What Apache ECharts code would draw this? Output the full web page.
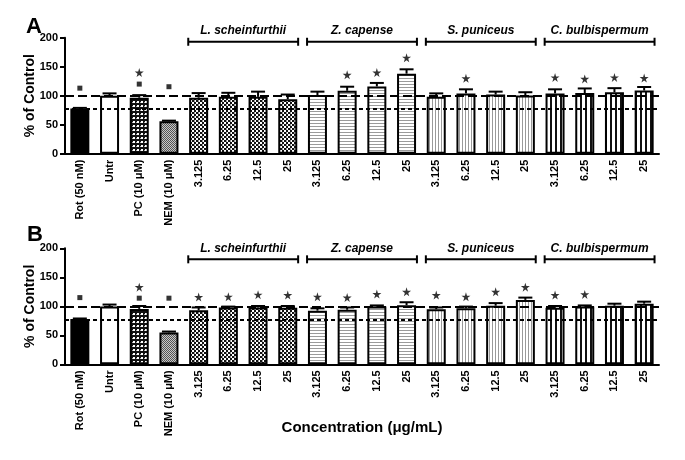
<!DOCTYPE html>
<html><head><meta charset="utf-8">
<script src="https://cdn.jsdelivr.net/npm/echarts@6/dist/echarts.min.js"></script>
<style>html,body{margin:0;padding:0;background:#fff}#c{width:685px;height:460px}</style>
</head><body><div id="c"></div>
<script>
// ---------- data ----------
const categories = ['Rot (50 nM)', 'Untr', 'PC (10 μM)', 'NEM (10 μM)',
  '3.125', '6.25', '12.5', '25',
  '3.125', '6.25', '12.5', '25',
  '3.125', '6.25', '12.5', '25',
  '3.125', '6.25', '12.5', '25'];
const groupNames = ['L. scheinfurthii', 'Z. capense', 'S. puniceus', 'C. bulbispermum'];
const groupStart = [4, 8, 12, 16];
const groupEnd = [7, 11, 15, 19];

const meanA = [78, 100, 96.5, 56, 96.5, 98, 98, 94, 101, 108.5, 116, 138, 98, 104, 102, 100.5, 104, 104.5, 106, 109];
const semA = [1, 4, 4.5, 1, 8, 7, 9, 8, 6, 7, 6, 7.5, 6, 7, 5, 5.5, 7, 8, 7, 6];
const starA = [null, null, 140, null, null, null, null, null, null, 136, 140, 165.5, null, 130, null, null, 131.5, 129, 131.5, 130.5];
const squareA = [113, null, 120, 115.5, null, null, null, null, null, null, null, null, null, null, null, null, null, null, null, null];

const meanB = [78, 99.5, 95.5, 55, 93, 98, 98, 97.5, 92.5, 94, 99.5, 102, 95, 96.5, 101, 111, 97.5, 99.5, 101, 104.5];
const semB = [1, 3.5, 5, 1.5, 5, 1.5, 2.5, 3, 4, 4, 2, 5, 3, 3, 4.5, 4, 3, 2, 3.5, 3.5];
const starB = [null, null, 133, null, 116, 116.5, 120, 119.5, 116.5, 115, 121, 125, 119.5, 116.5, 125, 133, 119.5, 120.5, null, null];
const squareB = [115, null, 114, 114, null, null, null, null, null, null, null, null, null, null, null, null, null, null, null, null];

const bracketLevel = [193, 181];
const refLines = [100, 77];
const yMin = 0, yMax = 200, yStep = 50;

// ---------- patterns ----------
function tile(w, h, draw) {
  const c = document.createElement('canvas');
  c.width = w; c.height = h;
  const g = c.getContext('2d');
  draw(g);
  return { image: c, repeat: 'repeat' };
}
const patPC = tile(4, 4, g => { g.fillStyle = '#111'; g.fillRect(0, 0, 4, 4); g.fillStyle = '#fff'; g.fillRect(1, 1, 2, 2); g.fillStyle = '#aaa'; g.fillRect(0, 2, 1, 1); });
const patNEM = tile(2, 2, g => { g.fillStyle = '#c8c8c8'; g.fillRect(0, 0, 2, 2); g.fillStyle = '#555'; g.fillRect(0, 0, 1, 1); g.fillRect(1, 1, 1, 1); });
const patLS = tile(4, 4, g => { g.fillStyle = '#fff'; g.fillRect(0, 0, 4, 4); g.fillStyle = '#111'; g.fillRect(0, 0, 2, 2); g.fillRect(2, 2, 2, 2); g.fillStyle = '#999'; g.fillRect(2, 0, 1, 2); });
const patZC = tile(1, 3, g => { g.fillStyle = '#fff'; g.fillRect(0, 0, 1, 3); g.fillStyle = '#9a9a9a'; g.fillRect(0, 0, 1, 1); });
const patSP = tile(3, 1, g => { g.fillStyle = '#fff'; g.fillRect(0, 0, 3, 1); g.fillStyle = '#999'; g.fillRect(0, 0, 1, 1); });
const patCB = tile(5, 1, g => { g.fillStyle = '#fff'; g.fillRect(0, 0, 5, 1); g.fillStyle = '#111'; g.fillRect(0, 0, 2, 1); });
const fills = ['#000', '#fff', patPC, patNEM,
  patLS, patLS, patLS, patLS, patZC, patZC, patZC, patZC,
  patSP, patSP, patSP, patSP, patCB, patCB, patCB, patCB];

const FONT = 'Liberation Sans, Arial, sans-serif';
const STAR = 'path://M50,0 L61,35 L98,35 L68,57 L79,91 L50,70 L21,91 L32,57 L2,35 L39,35 Z';

function renderErr(params, api) {
  const i = api.value(0);
  const lo = api.coord([i, api.value(1)]);
  const hi = api.coord([i, api.value(2)]);
  const hw = 7;
  return {
    type: 'group', children: [
      { type: 'line', shape: { x1: lo[0], y1: lo[1], x2: hi[0], y2: hi[1] }, style: { stroke: '#000', lineWidth: 2 } },
      { type: 'line', shape: { x1: hi[0] - hw, y1: hi[1], x2: hi[0] + hw, y2: hi[1] }, style: { stroke: '#000', lineWidth: 2 } }
    ]
  };
}
function renderBracket(params, api) {
  const s = api.coord([api.value(0), api.value(2)]);
  const e = api.coord([api.value(1), api.value(2)]);
  const half = api.size([1, 0])[0] * 0.35;
  const x1 = s[0] - half, x2 = e[0] + half, y = s[1];
  return {
    type: 'group', children: [
      { type: 'line', shape: { x1: x1, y1: y, x2: x2, y2: y }, style: { stroke: '#000', lineWidth: 2 } },
      { type: 'line', shape: { x1: x1, y1: y - 4, x2: x1, y2: y + 4 }, style: { stroke: '#000', lineWidth: 2 } },
      { type: 'line', shape: { x1: x2, y1: y - 4, x2: x2, y2: y + 4 }, style: { stroke: '#000', lineWidth: 2 } },
      { type: 'text', x: (x1 + x2) / 2, y: y - 5, style: { text: groupNames[api.value(3)], align: 'center', verticalAlign: 'bottom', fontSize: 12, fontWeight: 'bold', fontStyle: 'italic', fontFamily: FONT, fill: '#000' } }
    ]
  };
}

const grids = [
  { left: 65, top: 37.7, width: 594, height: 116 },
  { left: 65, top: 248.3, width: 594, height: 116 }
];
const xAxes = [0, 1].map(k => ({
  type: 'category', gridIndex: k, data: categories,
  axisLine: { lineStyle: { color: '#000', width: 2 } },
  axisTick: { show: false },
  axisLabel: { rotate: 90, interval: 0, color: '#000', fontWeight: 'bold', fontSize: 11, fontFamily: FONT, margin: 6 },
  name: k === 1 ? 'Concentration (μg/mL)' : '',
  nameLocation: 'middle', nameGap: 56, nameMoveOverlap: false,
  nameTextStyle: { color: '#000', fontWeight: 'bold', fontSize: 15, fontFamily: FONT }
}));
const yAxes = [0, 1].map(k => ({
  type: 'value', gridIndex: k, min: yMin, max: yMax, interval: yStep,
  axisLine: { show: true, lineStyle: { color: '#000', width: 2 } },
  axisTick: { show: true, length: 5, lineStyle: { color: '#000', width: 2 } },
  axisLabel: { color: '#000', fontWeight: 'bold', fontSize: 11, fontFamily: FONT, margin: 7 },
  splitLine: { show: false },
  name: '% of Control', nameLocation: 'middle', nameGap: 28, nameMoveOverlap: false,
  nameTextStyle: { color: '#000', fontWeight: 'bold', fontSize: 14, fontFamily: FONT }
}));

function panelSeries(k, mean, sem, stars, squares) {
  return [
    {
      type: 'bar', xAxisIndex: k, yAxisIndex: k, barWidth: 19,
      data: mean.map((v, i) => ({ value: v, itemStyle: { color: fills[i] } })),
      itemStyle: { borderColor: '#000', borderWidth: 2 },
      z: 2,
      markLine: {
        silent: true, symbol: 'none', label: { show: false },
        data: [
          { yAxis: refLines[0], lineStyle: { type: [9, 4], color: '#000', width: 2 } },
          { yAxis: refLines[1], lineStyle: { type: [4, 3], color: '#000', width: 2 } }
        ]
      }
    },
    {
      type: 'custom', xAxisIndex: k, yAxisIndex: k, z: 3,
      data: mean.map((v, i) => [i, v, v + sem[i]]),
      encode: { x: 0, y: [1, 2] },
      renderItem: renderErr
    },
    {
      type: 'scatter', xAxisIndex: k, yAxisIndex: k, symbol: STAR, symbolSize: 9,
      itemStyle: { color: '#000' },
      data: stars.map((v, i) => [i, v]).filter(d => d[1] != null)
    },
    {
      type: 'scatter', xAxisIndex: k, yAxisIndex: k, symbol: 'rect', symbolSize: 5,
      itemStyle: { color: '#000' },
      data: squares.map((v, i) => [i, v]).filter(d => d[1] != null)
    },
    {
      type: 'custom', xAxisIndex: k, yAxisIndex: k, clip: false,
      data: groupStart.map((s, g) => [s, groupEnd[g], bracketLevel[k], g]),
      encode: { x: [0, 1], y: 2 },
      renderItem: renderBracket
    }
  ];
}

const chart = echarts.init(document.getElementById('c'), null, { renderer: 'canvas' });
chart.setOption({
  animation: false,
  backgroundColor: '#fff',
  grid: grids,
  xAxis: xAxes,
  yAxis: yAxes,
  graphic: [
    { type: 'text', left: 26, top: 16, style: { text: 'A', fontSize: 22, fontWeight: 'bold', fontFamily: FONT, fill: '#000' } },
    { type: 'text', left: 27, top: 224, style: { text: 'B', fontSize: 22, fontWeight: 'bold', fontFamily: FONT, fill: '#000' } }
  ],
  series: [].concat(
    panelSeries(0, meanA, semA, starA, squareA),
    panelSeries(1, meanB, semB, starB, squareB)
  )
});
</script>
</body></html>
